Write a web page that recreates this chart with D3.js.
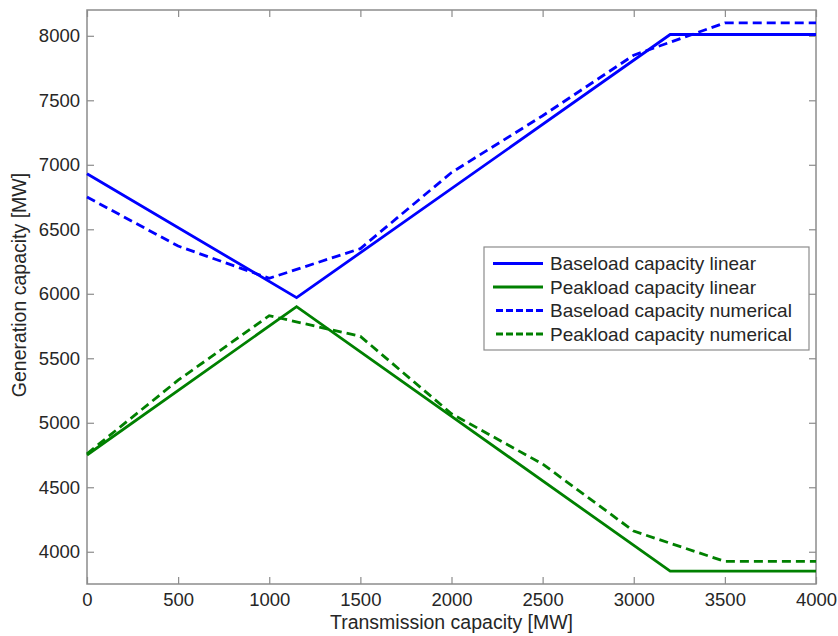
<!DOCTYPE html>
<html>
<head>
<meta charset="utf-8">
<script src="https://cdn.jsdelivr.net/npm/d3@7"></script>
<style>
  body { margin: 0; background: #fff; }
  text { font-family: "Liberation Sans", Arial, sans-serif; fill: #262626; }
</style>
</head>
<body>
<svg id="chart"></svg>
<script>
// data
const xLinear = [0, 1150, 3200, 4000];
const baseLinear = [6930, 5970, 8010, 8010];
const peakLinear = [4750, 5900, 3850, 3850];

const xNumerical = [0, 500, 1000, 1500, 2000, 2500, 3000, 3500, 4000];
const baseNumerical = [6750, 6370, 6120, 6350, 6940, 7380, 7850, 8100, 8100];
const peakNumerical = [4760, 5330, 5830, 5670, 5070, 4680, 4160, 3925, 3925];

const xTicks = [0, 500, 1000, 1500, 2000, 2500, 3000, 3500, 4000];
const yTicks = [4000, 4500, 5000, 5500, 6000, 6500, 7000, 7500, 8000];

const seriesNames = [
    'Baseload capacity linear',
    'Peakload capacity linear',
    'Baseload capacity numerical',
    'Peakload capacity numerical'
];

const width = 838, height = 636;
const margin = { top: 10, right: 22, bottom: 52, left: 87 };
const plotW = width - margin.left - margin.right;
const plotH = height - margin.top - margin.bottom;

const svg = d3.select('#chart')
    .attr('width', width)
    .attr('height', height);

const g = svg.append('g')
    .attr('transform', 'translate(' + margin.left + ',' + margin.top + ')');

const x = d3.scaleLinear().domain([0, 4000]).range([0, plotW]);
const y = d3.scaleLinear().domain([3750, 8200]).range([plotH, 0]);

const axisColor = '#8c8c8c';
const fmt = d3.format('d');

// box
g.append('rect')
    .attr('width', plotW)
    .attr('height', plotH)
    .attr('fill', 'none')
    .attr('stroke', axisColor)
    .attr('stroke-width', 1.5);

// ticks on all four sides, pointing inwards
const xAxis = d3.axisBottom(x).tickValues(xTicks).tickSize(-7).tickPadding(9).tickFormat(fmt);
const yAxis = d3.axisLeft(y).tickValues(yTicks).tickSize(-7).tickPadding(7).tickFormat(fmt);

g.append('g')
    .attr('class', 'x axis')
    .attr('transform', 'translate(0,' + plotH + ')')
    .call(xAxis);
g.append('g')
    .attr('class', 'y axis')
    .call(yAxis);
g.append('g')
    .call(d3.axisTop(x).tickValues(xTicks).tickSize(-7).tickFormat(''));
g.append('g')
    .attr('transform', 'translate(' + plotW + ',0)')
    .call(d3.axisRight(y).tickValues(yTicks).tickSize(-7).tickFormat(''));

g.selectAll('.domain').remove();
g.selectAll('.tick line').attr('stroke', axisColor).attr('stroke-width', 1.2);
g.selectAll('.tick text')
    .style('font-size', '18.5px')
    .style('font-family', '"Liberation Sans", Arial, sans-serif')
    .attr('fill', '#262626');

// axis labels
g.append('text')
    .attr('x', plotW / 2)
    .attr('y', plotH + 45)
    .attr('text-anchor', 'middle')
    .style('font-size', '19.5px')
    .text('Transmission capacity [MW]');

g.append('text')
    .attr('transform', 'rotate(-90)')
    .attr('x', -plotH / 2 + 12)
    .attr('y', -margin.left + 26)
    .attr('text-anchor', 'middle')
    .style('font-size', '19.5px')
    .text('Generation capacity [MW]');

// lines
const series = [
    { xs: xLinear, ys: baseLinear, color: '#0000ff', dash: null },
    { xs: xLinear, ys: peakLinear, color: '#008000', dash: null },
    { xs: xNumerical, ys: baseNumerical, color: '#0000ff', dash: '9,5' },
    { xs: xNumerical, ys: peakNumerical, color: '#008000', dash: '9,5' }
];

const line = d3.line()
    .x(function (d) { return x(d[0]); })
    .y(function (d) { return y(d[1]); });

g.selectAll('.line')
    .data(series)
    .enter()
    .append('path')
    .attr('class', 'line')
    .attr('fill', 'none')
    .attr('stroke', function (d) { return d.color; })
    .attr('stroke-width', 2.8)
    .attr('stroke-dasharray', function (d) { return d.dash; })
    .attr('d', function (d) { return line(d3.zip(d.xs, d.ys)); });

// legend
const legend = svg.append('g')
    .attr('transform', 'translate(484,247)');

legend.append('rect')
    .attr('width', 325)
    .attr('height', 103)
    .attr('fill', '#fff')
    .attr('stroke', axisColor)
    .attr('stroke-width', 1.2);

const items = legend.selectAll('.item')
    .data(series)
    .enter()
    .append('g')
    .attr('class', 'item')
    .attr('transform', function (d, i) { return 'translate(0,' + (16.5 + i * 23.5) + ')'; });

items.append('line')
    .attr('x1', function (d) { return d.dash ? 12 : 9; })
    .attr('x2', 59)
    .attr('stroke', function (d) { return d.color; })
    .attr('stroke-width', 2.8)
    .attr('stroke-dasharray', function (d) { return d.dash ? '7,3' : null; });

items.append('text')
    .attr('x', 66)
    .attr('dy', '0.35em')
    .style('font-size', '19px')
    .text(function (d, i) { return seriesNames[i]; });
</script>
</body>
</html>
